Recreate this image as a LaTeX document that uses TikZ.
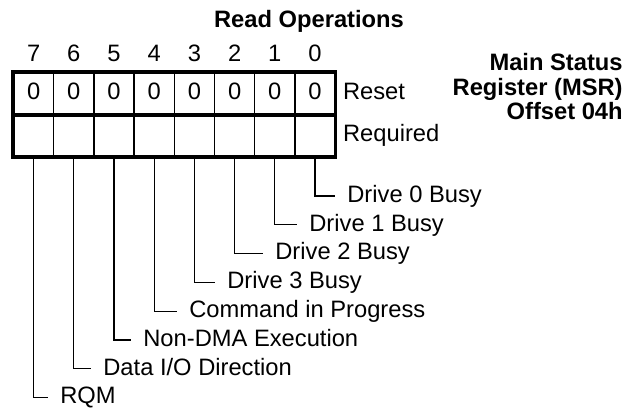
\documentclass[tikz,border=0pt]{standalone}
\usepackage{fontspec}
\setmainfont{Liberation Sans}
\usetikzlibrary{positioning,calc}
\newcommand{\regfont}{\fontsize{13.5}{14}\selectfont}
\tikzset{
  cell/.style={draw, line width=0.7pt, minimum width=0.804cm,
    minimum height=0.84cm, inner sep=0pt, text height=0.716em, text depth=0pt},
  bitno/.style={inner sep=0pt, text height=0.716em, text depth=0pt},
  field/.style={anchor=west, inner ysep=0pt, inner xsep=0.24cm,
    text height=0.716em, text depth=0pt},
  side/.style={anchor=west, inner ysep=0pt, inner xsep=0.14cm,
    text height=0.716em, text depth=0pt},
  lead/.style={line width=0.6pt},
  frame/.style={line width=1.9pt},
  regname/.style={font=\regfont\bfseries, align=right, inner sep=0pt}}

\begin{document}
\begin{tikzpicture}[x=0.02cm, y=-0.02cm, font=\regfont]
  \useasboundingbox (0,0) rectangle (638,412);
  % ---- the register: bit numbers, reset row and required row
  \foreach \b in {0,...,7} {
    \node[cell] (r\b) at ({33.6+40.2*(7-\b)}, 93.5) {0};
    \node[cell] (q\b) at ({33.6+40.2*(7-\b)}, 135.5) {};
    \node[bitno, above=0.21cm of r\b] (n\b) {\b};
  }
  \draw[frame] (r7.north west) rectangle (q0.south east);
  \draw[frame] (r7.south west) -- (r0.south east);
  \node[side, right=0cm of r0] (reset) {Reset};
  \node[side, right=0cm of q0] (req) {Required};
  % ---- titles
  \node[font=\regfont\bfseries, anchor=base] (title) at (309, 28)
    {Read Operations};
  \node[regname, anchor=north east] (msr) at (623, 53)
    {Main Status\\Register (MSR)\\Offset 04h};
  % ---- one field per bit, led out from the bottom of its cell
  \foreach \b/\x/\t in {0/347/{Drive 0 Busy}, 1/309/{Drive 1 Busy},
      2/275/{Drive 2 Busy}, 3/227/{Drive 3 Busy},
      4/189/{Command in Progress}, 5/143/{Non-DMA Execution},
      6/103/{Data I/O Direction}, 7/60/{RQM}} {
    \node[field] (f\b) at ({\x-12}, {196+28.8*\b}) {\t};
    \draw[lead] (q\b.south) |- (f\b.west);
  }
\end{tikzpicture}
\end{document}
